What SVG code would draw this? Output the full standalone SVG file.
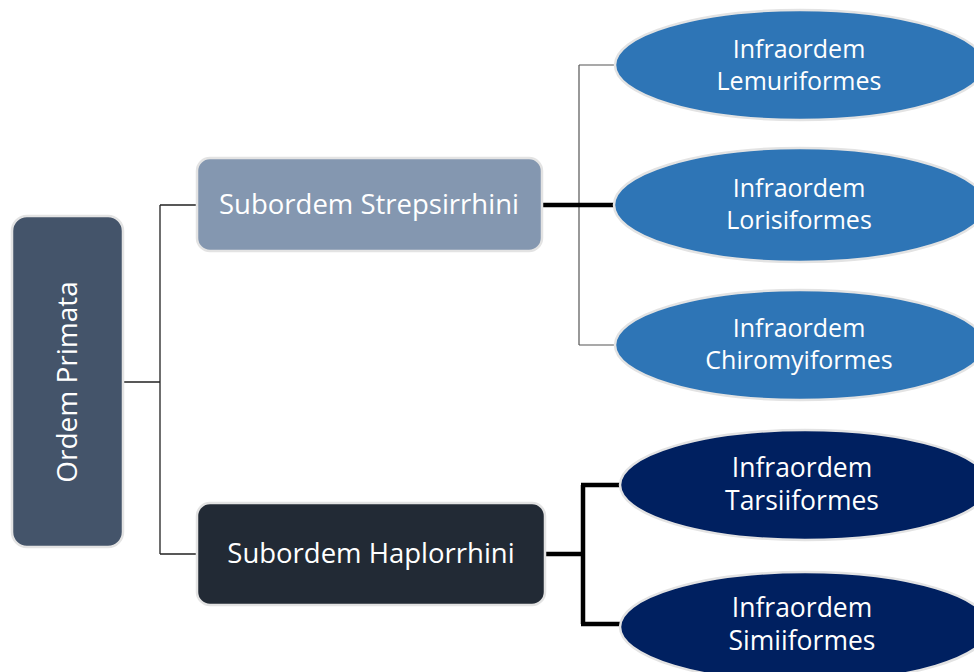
<svg xmlns="http://www.w3.org/2000/svg" width="974" height="672" viewBox="0 0 974 672">
<style>
.node{stroke:#e3e3e3;stroke-width:2.5}
.t{font-family:"Open Sans","Noto Sans","Liberation Sans",sans-serif;fill:#fff;text-anchor:middle}
.thin{fill:none;stroke:#222;stroke-width:1.3}
.gthin{fill:none;stroke:#555;stroke-width:1.2}
.thick{fill:none;stroke:#000;stroke-width:4.5}
</style>
<rect width="974" height="672" fill="#fff"/>
<g id="connectors">
<path class="thin" d="M123 382H160M160 205V554M160 205H197M160 554H197"/>
<path class="gthin" d="M579 65V345M579 65H616M579 345H616"/>
<path class="thick" d="M542 205H615"/>
<path class="thick" d="M546 554H583M583 485V624M581 485H621M581 624H621"/>
</g>
<g id="ordem">
<rect class="node" x="12" y="216" width="111" height="331" rx="15" fill="#44546A"/>
<text class="t" font-size="28" transform="translate(77,382) rotate(-90)">Ordem Primata</text>
</g>
<g id="strepsirrhini">
<rect class="node" x="197" y="158" width="345" height="93" rx="13" fill="#8497B0"/>
<text class="t" font-size="27.5" x="369" y="214">Subordem Strepsirrhini</text>
</g>
<g id="haplorrhini">
<rect class="node" x="197" y="503" width="348" height="102" rx="13" fill="#222A35"/>
<text class="t" font-size="27.5" x="371" y="563">Subordem Haplorrhini</text>
</g>
<g id="lemuriformes">
<ellipse class="node" cx="800" cy="65" rx="185" ry="55" fill="#2E75B6"/>
<text class="t" font-size="25" x="799" y="58">Infraordem</text>
<text class="t" font-size="25" x="799" y="90">Lemuriformes</text>
</g>
<g id="lorisiformes">
<ellipse class="node" cx="800" cy="205" rx="186" ry="57" fill="#2E75B6"/>
<text class="t" font-size="25" x="799" y="197">Infraordem</text>
<text class="t" font-size="25" x="799" y="229">Lorisiformes</text>
</g>
<g id="chiromyiformes">
<ellipse class="node" cx="800" cy="345" rx="185" ry="55" fill="#2E75B6"/>
<text class="t" font-size="25" x="799" y="337">Infraordem</text>
<text class="t" font-size="25" x="799" y="369">Chiromyiformes</text>
</g>
<g id="tarsiiformes">
<ellipse class="node" cx="805" cy="485" rx="185" ry="55" fill="#002060"/>
<text class="t" font-size="26.5" x="802" y="477">Infraordem</text>
<text class="t" font-size="26.5" x="802" y="510">Tarsiiformes</text>
</g>
<g id="simiiformes">
<ellipse class="node" cx="805" cy="627" rx="185" ry="55" fill="#002060"/>
<text class="t" font-size="26.5" x="802" y="617">Infraordem</text>
<text class="t" font-size="26.5" x="802" y="650">Simiiformes</text>
</g>
</svg>
